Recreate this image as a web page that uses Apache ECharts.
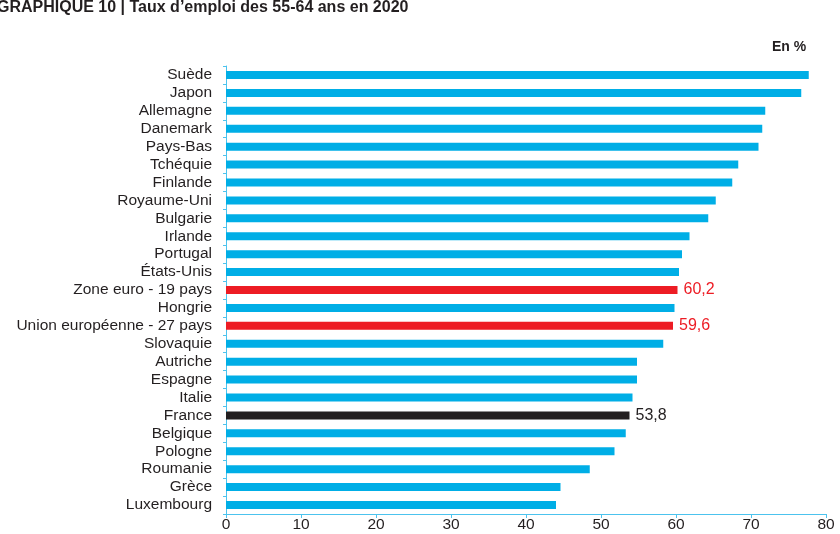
<!DOCTYPE html>
<html><head><meta charset="utf-8">
<script src="https://cdn.jsdelivr.net/npm/echarts@6/dist/echarts.min.js"></script>
<style>html,body{margin:0;padding:0;background:#fff}#c{width:840px;height:534px}</style>
</head><body><div id="c"></div>
<script>
const categories = ["Suède","Japon","Allemagne","Danemark","Pays-Bas","Tchéquie","Finlande","Royaume-Uni","Bulgarie","Irlande","Portugal","États-Unis","Zone euro - 19 pays","Hongrie","Union européenne - 27 pays","Slovaquie","Autriche","Espagne","Italie","France","Belgique","Pologne","Roumanie","Grèce","Luxembourg"];
const values = [77.7,76.7,71.9,71.5,71.0,68.3,67.5,65.3,64.3,61.8,60.8,60.4,60.2,59.8,59.6,58.3,54.8,54.8,54.2,53.8,53.3,51.8,48.5,44.6,44.0];
const highlightRed = ["Zone euro - 19 pays","Union européenne - 27 pays"];
const highlightBlack = ["France"];
const xTicks = [0,10,20,30,40,50,60,70,80];

const BLUE = '#00AEE6', RED = '#ED1C24', BLACK = '#231F20', AXIS = '#4CC3EE';
const FONT = '"Liberation Sans", Arial, sans-serif';
const data = values.map((v,i)=>{
  const c = categories[i];
  if (highlightRed.includes(c)) return {value:v,itemStyle:{color:RED},label:{show:true,color:RED}};
  if (highlightBlack.includes(c)) return {value:v,itemStyle:{color:BLACK},label:{show:true,color:BLACK}};
  return {value:v};
});
const chart = echarts.init(document.getElementById('c'), null, {renderer:'canvas'});
chart.setOption({
  animation:false,
  textStyle:{fontFamily:FONT},
  graphic:[
    {type:'text',x:-3,y:8,style:{text:'GRAPHIQUE 10 | Taux d’emploi des 55-64 ans en 2020',font:'bold 16px '+FONT,fill:BLACK,verticalAlign:'middle'}},
    {type:'text',x:789,y:47,style:{text:'En %',font:'bold 14px '+FONT,fill:BLACK,align:'center',verticalAlign:'middle'}}
  ],
  grid:{left:226,right:14,top:66,bottom:20,containLabel:false},
  xAxis:{type:'value',min:0,max:80,interval:10,
    axisLine:{show:true,lineStyle:{color:AXIS,width:1}},
    axisTick:{show:true,length:4,lineStyle:{color:AXIS}},
    splitLine:{show:false},
    axisLabel:{color:BLACK,fontSize:15.5,margin:3,formatter:v=>xTicks.includes(v)?String(v):''}},
  yAxis:{type:'category',data:categories,inverse:true,
    axisLine:{show:true,lineStyle:{color:AXIS,width:1}},
    axisTick:{show:true,length:3,interval:0,alignWithLabel:false,lineStyle:{color:AXIS}},
    axisLabel:{color:BLACK,fontSize:15.5,margin:14,interval:0}},
  series:[{type:'bar',data:data,barWidth:8,itemStyle:{color:BLUE},
    label:{show:false,position:'right',distance:6,fontSize:16,formatter:p=>p.value.toFixed(1).replace('.',',')}}]
});
</script></body></html>
